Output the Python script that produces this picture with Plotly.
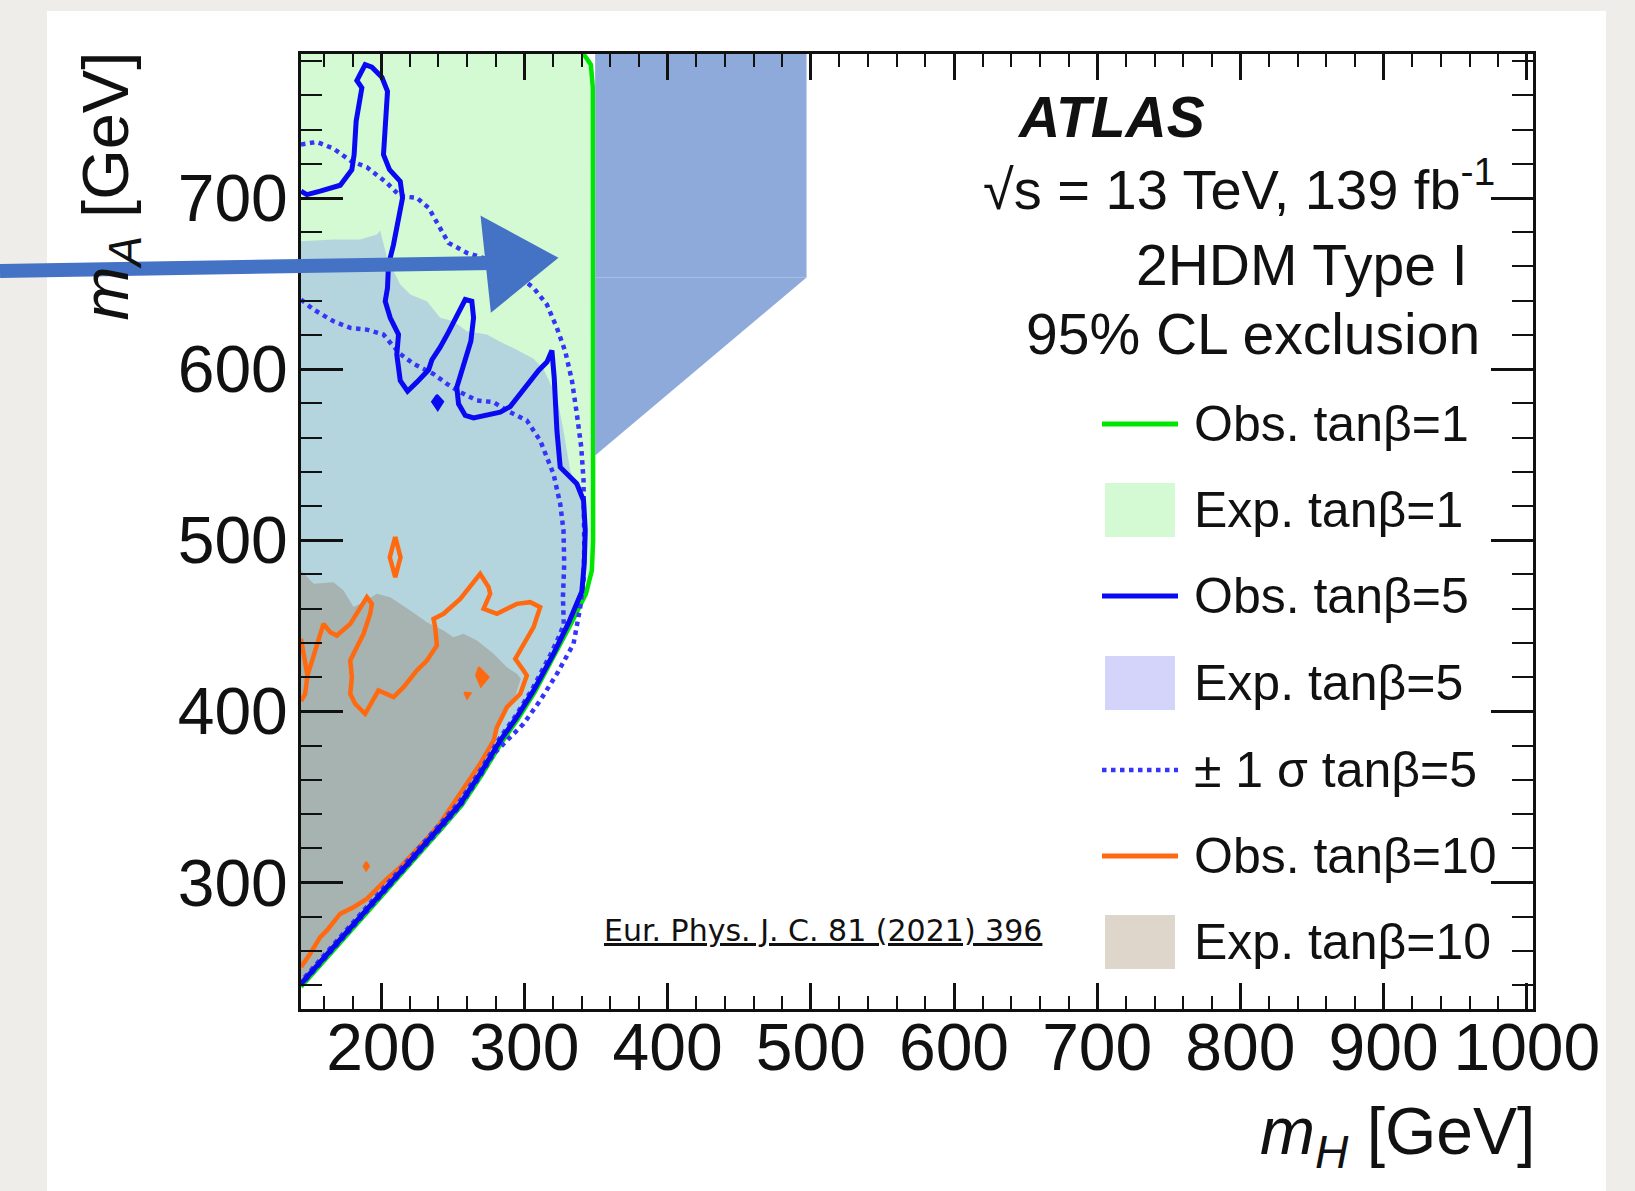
import plotly.graph_objects as go

# ---------------- data ----------------
# Expected exclusion, tan(beta)=1 (region)
exp1_mh = [144, 341.3, 346.4, 347.8, 348.0, 348.0, 347.1, 343.0, 333.2, 321.2, 307.3, 295.7,
           284.2, 270.2, 256.3, 242.3, 217.6, 192.6, 167.6, 144]
exp1_ma = [784.2, 784.2, 778.0, 764.4, 650.0, 500.0, 482.3, 468.7, 452.2, 432.8, 411.3, 395.8,
           382.0, 362.8, 345.2, 331.6, 308.2, 284.8, 261.4, 239.0]

# Observed, tan(beta)=1 (line)
obs1_mh = [341.3, 346.4, 347.8, 348.0, 348.0, 347.1, 343.0, 333.2, 321.2, 307.3, 295.7,
           284.2, 270.2, 256.3, 242.3, 217.6, 192.6, 167.6, 144]
obs1_ma = [784.2, 778.0, 764.4, 650.0, 500.0, 482.3, 468.7, 452.2, 432.8, 411.3, 395.8,
           382.0, 362.8, 345.2, 331.6, 308.2, 284.8, 261.4, 239.0]

# Expected exclusion, tan(beta)=5 (region)
exp5_mh = [144, 166.7, 185.3, 197.0, 199.3, 205.0, 210.0, 213.3, 220.3, 231.9, 241.2, 250.5,
           259.8, 273.8, 283.1, 293.0, 306.4, 313.4, 322.7, 327.3, 332.0, 339.0, 342.5, 343.0,
           341.0, 332.0, 320.3, 306.4, 294.7, 283.1, 269.1, 255.2, 241.2, 216.5, 191.4, 166.5, 144]
exp5_ma = [674.8, 675.8, 675.8, 678.7, 681.0, 662.0, 655.0, 649.4, 643.6, 639.7, 630.0, 628.0,
           622.2, 620.2, 616.0, 612.0, 606.0, 600.0, 583.6, 564.1, 540.7, 525.2, 505.7, 486.2,
           470.0, 453.1, 433.6, 412.1, 396.6, 382.9, 363.5, 345.9, 332.3, 308.9, 285.5, 262.2, 240.7]

# Observed, tan(beta)=5 (line)
obs5_mh = [144, 148.1, 157.4, 171.4, 179.5, 181.1, 182.5, 185.8, 186.5, 183.0, 188.8, 193.5,
           200.5, 204.4, 202.8, 201.6, 205.8, 213.3, 214.9, 212.1, 208.6, 205.1, 204.4, 202.8,
           206.3, 212.1, 210.9, 213.3, 218.4, 224.9, 233.1, 235.4, 241.2, 247.0, 252.8, 258.7,
           263.3, 264.5, 262.6, 259.8, 257.5, 252.8, 254.0, 258.7, 264.5, 283.1, 290.1, 301.7,
           309.9, 315.7, 319.2, 320.8, 322.7, 325.0, 336.6, 341.3, 342.5, 341.8, 340.1, 331.0,
           320.3, 306.4, 294.7, 283.1, 269.1, 255.2, 241.2, 216.5, 191.4, 166.5, 144]
obs5_ma = [704.0, 702.0, 704.0, 707.5, 716.6, 725.4, 744.9, 758.5, 764.4, 768.7, 778.0, 776.5,
           770.6, 762.4, 744.9, 725.4, 716.6, 709.8, 700.1, 686.5, 672.8, 661.1, 647.5, 639.7,
           630.0, 620.2, 608.5, 593.3, 587.1, 592.4, 599.6, 605.4, 612.8, 621.6, 631.9, 640.7,
           639.7, 630.0, 616.3, 608.5, 603.0, 589.4, 579.7, 572.9, 571.5, 574.8, 578.1, 590.4,
           599.2, 604.1, 610.9, 595.3, 564.1, 542.7, 533.0, 523.2, 505.7, 486.2, 470.0, 452.0,
           433.6, 412.1, 396.6, 382.9, 363.5, 345.9, 332.3, 308.9, 285.5, 262.2, 240.7]
# small isolated observed island, tan(beta)=5
obs5_island_mh = [238.9, 243.3, 239.5, 235.5, 238.9]
obs5_island_ma = [585.0, 581.0, 576.0, 581.0, 585.0]

# +/- 1 sigma expected, tan(beta)=5 (two dotted lines)
sig_lo_mh = [144, 152.8, 166.7, 178.4, 190.0, 201.6, 207.4, 213.3, 222.6, 236.5, 245.9, 255.2,
             266.8, 278.5, 287.8, 301.7, 311.0, 320.3, 325.0, 327.3, 327.8, 326.9, 327.5, 325.0,
             319.0, 305.5, 294.0, 282.5, 268.5, 254.5, 240.5, 216.0, 191.0, 166.0, 144]
sig_lo_ma = [640.7, 634.8, 628.0, 624.1, 623.1, 620.2, 614.4, 608.9, 603.1, 597.2, 591.4, 586.5,
             581.7, 580.7, 575.8, 570.0, 558.3, 538.8, 521.3, 505.7, 486.2, 466.7, 451.1, 445.3,
             434.5, 413.0, 397.5, 384.0, 364.5, 347.0, 333.5, 310.0, 286.5, 263.0, 242.0]
sig_hi_mh = [144, 155.1, 166.7, 178.4, 190.0, 203.9, 213.3, 224.9, 233.1, 238.9, 247.0, 259.8,
             275.0, 292.0, 306.4, 315.7, 322.7, 328.5, 333.2, 336.6, 339.7, 341.3, 341.8, 341.8,
             341.3, 339.0, 334.3, 322.7, 311.0, 299.4, 287.8, 278.5, 269.0, 255.0, 241.0, 216.5,
             191.4, 166.5, 144]
sig_hi_ma = [731.3, 732.8, 728.9, 721.9, 718.0, 708.9, 701.1, 700.1, 694.3, 685.5, 673.8, 668.0,
             664.0, 657.0, 647.5, 637.8, 624.1, 610.5, 593.3, 573.9, 554.4, 534.9, 515.4, 496.0,
             476.5, 460.9, 439.4, 421.9, 406.3, 392.7, 382.9, 375.1, 362.0, 344.5, 331.0, 308.0,
             284.5, 261.5, 240.0]

# Expected exclusion, tan(beta)=10 (region)
exp10_mh = [144, 152.8, 166.7, 173.7, 180.7, 185.3, 197.0, 206.3, 220.3, 231.9, 243.5, 250.5,
            257.5, 266.8, 278.5, 287.8, 294.7, 297.5, 294.0, 288.0, 281.0, 278.5, 269.1, 255.2,
            241.2, 216.5, 191.4, 166.5, 144]
exp10_ma = [482.3, 474.5, 475.5, 470.6, 460.9, 462.8, 468.7, 466.7, 458.9, 452.1, 447.2, 443.3,
            445.3, 441.4, 433.6, 425.8, 421.9, 419.0, 410.0, 402.0, 391.0, 383.0, 363.5, 345.9,
            332.3, 308.9, 285.5, 262.2, 240.7]

# Observed, tan(beta)=10 (lines; None separates contour pieces)
obs10_mh = [144, 148.5, 159.7, 164.4, 169.0, 178.4, 190.0, 193.5, 192.3, 187.7, 181.8, 178.4,
            179.5, 178.4, 181.8, 188.8, 198.1, 203.9, 208.6, 215.6, 224.9, 231.9, 238.9, 237.7,
            236.5, 243.5, 255.2, 269.1, 275.0, 276.1, 271.5, 280.8, 294.7, 304.1, 311.0, 306.4,
            299.4, 293.6, 299.4, 301.7, 297.1, 287.8, 280.8, 278.5, 269.1, 255.2, 241.2, 231.9,
            213.3, 204.0, 190.0, 180.7, 171.4, 162.1, 157.4, 150.4, 144,
            None, 148.5, 146.9, 144,
            None, 209.8, 213.5, 209.8, 206.0, 209.8]
obs10_ma = [442.4, 420.9, 451.1, 446.2, 444.3, 451.1, 466.7, 462.8, 457.0, 445.3, 435.5, 429.7,
            420.0, 410.2, 404.4, 398.5, 412.2, 410.2, 408.3, 414.1, 423.9, 429.7, 438.5, 449.2,
            454.0, 457.0, 465.7, 480.3, 472.6, 468.7, 459.9, 457.0, 462.8, 463.8, 460.9, 449.2,
            439.4, 430.7, 423.9, 420.9, 410.2, 402.4, 390.7, 382.9, 369.3, 351.8, 334.5, 325.5,
            308.9, 302.1, 290.4, 285.5, 281.7, 271.9, 268.0, 258.3, 250.5,
            None, 420.9, 410.2, 406.0,
            None, 502.0, 490.0, 478.4, 490.0, 502.0]
obs10_blobs_mh = [268.2, 275.0, 269.6, 266.3, 268.2, None, 258.0, 262.5, 260.0, 258.0,
                  None, 189.5, 191.5, 189.5, 187.7, 189.5]
obs10_blobs_ma = [425.8, 420.0, 414.5, 420.9, 425.8, None, 411.0, 410.5, 407.5, 411.0,
                  None, 312.0, 309.5, 307.0, 309.5, 312.0]

# Highlight overlay (added on top of the published figure)
hl_mh = [349.4, 497.0, 497.0, 349.4]
hl_ma = [784.2, 784.2, 653.6, 549.5]
hl_edge_mh = [349.4, 497.0]
hl_edge_ma = [653.6, 653.6]

# Axis ticks / labels
x_ticks = [200, 300, 400, 500, 600, 700, 800, 900, 1000]
y_ticks = [300, 400, 500, 600, 700]

legend_labels = ["Obs. tanβ=1", "Exp. tanβ=1", "Obs. tanβ=5", "Exp. tanβ=5",
                 "± 1 σ tanβ=5", "Obs. tanβ=10", "Exp. tanβ=10"]

# ---------------- styling ----------------
W, H = 1635, 1191
L, R, T, B = 301, 102, 54, 182
PW, PH = W - L - R, H - T - B
X_RANGE = [144.0, 1004.3]
Y_RANGE = [226.0, 784.2]
FONT = "Liberation Sans, Arial, Helvetica, sans-serif"

C_EXP1 = "#d4fad4"
C_EXP5_PLOT = "#b5d5de"
C_EXP5_LEG = "#d4d4fa"
C_EXP10_PLOT = "#a6b3b0"
C_EXP10_LEG = "#ded5cb"
C_GREEN = "#00e600"
C_BLUE = "#0a0af2"
C_DOT = "#3535fa"
C_ORANGE = "#ff6a10"
C_HL = "#8eaadb"
C_ARROW = "#4472c4"


def px(x):
    return (x - L) / PW


def py(y):
    return (H - B - y) / PH


fig = go.Figure()


def add(x, y, **kw):
    base = dict(mode="lines", hoverinfo="skip", showlegend=False)
    base.update(kw)
    fig.add_trace(go.Scatter(x=x, y=y, **base))


add(exp1_mh, exp1_ma, fill="toself", fillcolor=C_EXP1, line=dict(width=0))
add(exp5_mh, exp5_ma, fill="toself", fillcolor=C_EXP5_PLOT, line=dict(width=0))
add(exp10_mh, exp10_ma, fill="toself", fillcolor=C_EXP10_PLOT, line=dict(width=0))
add(obs1_mh, obs1_ma, line=dict(color=C_GREEN, width=4.5))
add(obs10_mh, obs10_ma, line=dict(color=C_ORANGE, width=4.5))
add(obs10_blobs_mh, obs10_blobs_ma, fill="toself", fillcolor=C_ORANGE,
    line=dict(color=C_ORANGE, width=2))
add(sig_lo_mh, sig_lo_ma, line=dict(color=C_DOT, width=4.5, dash="dot"))
add(sig_hi_mh, sig_hi_ma, line=dict(color=C_DOT, width=4.5, dash="dot"))
add(obs5_mh, obs5_ma, line=dict(color=C_BLUE, width=5))
add(obs5_island_mh, obs5_island_ma, fill="toself", fillcolor=C_BLUE,
    line=dict(color=C_BLUE, width=2))
add(hl_mh, hl_ma, fill="toself", fillcolor=C_HL, line=dict(width=0))
add(hl_edge_mh, hl_edge_ma, line=dict(color="#aabfe4", width=1))

shapes = []
# white panel
shapes.append(dict(type="rect", xref="paper", yref="paper", layer="below",
                   x0=px(47), x1=px(1606), y0=py(1191), y1=py(11),
                   fillcolor="white", line=dict(width=0)))
# hand drawn arrow
shapes.append(dict(type="line", xref="paper", yref="paper",
                   x0=px(0), y0=py(271), x1=px(492), y1=py(263),
                   line=dict(color=C_ARROW, width=14)))
shapes.append(dict(type="path", xref="paper", yref="paper",
                   path=f"M {px(481.7)},{py(217.3)} L {px(556.7)},{py(258)} "
                        f"L {px(491.7)},{py(310.7)} Z",
                   fillcolor=C_ARROW, line=dict(color=C_ARROW, width=2)))

# legend (drawn manually, ROOT style)
leg_rows = [424, 510, 596, 683, 770, 856, 942]
leg_kind = ["line", "box", "line", "box", "dot", "line", "box"]
leg_color = [C_GREEN, C_EXP1, C_BLUE, C_EXP5_LEG, C_DOT, C_ORANGE, C_EXP10_LEG]
annotations = []
for lab, yy, kind, col in zip(legend_labels, leg_rows, leg_kind, leg_color):
    if kind == "box":
        shapes.append(dict(type="rect", xref="paper", yref="paper",
                           x0=px(1105), x1=px(1175), y0=py(yy + 27), y1=py(yy - 27),
                           fillcolor=col, line=dict(width=0)))
    else:
        shapes.append(dict(type="line", xref="paper", yref="paper",
                           x0=px(1102), x1=px(1178), y0=py(yy), y1=py(yy),
                           line=dict(color=col, width=5 if kind == "line" else 4.5,
                                     dash="solid" if kind == "line" else "dot")))
    annotations.append(dict(xref="paper", yref="paper", x=px(1192), y=py(yy),
                            xanchor="left", yanchor="middle", showarrow=False, text=lab,
                            font=dict(family=FONT, size=50, color="#111111")))

annotations += [
    dict(xref="paper", yref="paper", x=px(1015), y=py(117), xanchor="left", yanchor="middle",
         showarrow=False, text="<b><i>ATLAS</i></b>",
         font=dict(family=FONT, size=57, color="#111111")),
    dict(xref="paper", yref="paper", x=px(1497), y=py(186), xanchor="right", yanchor="middle",
         showarrow=False, text="√s = 13 TeV, 139 fb<sup>-1</sup>",
         font=dict(family=FONT, size=56, color="#111111")),
    dict(xref="paper", yref="paper", x=px(1470), y=py(265), xanchor="right", yanchor="middle",
         showarrow=False, text="2HDM Type I",
         font=dict(family=FONT, size=57, color="#111111")),
    dict(xref="paper", yref="paper", x=px(1482), y=py(334), xanchor="right", yanchor="middle",
         showarrow=False, text="95% CL exclusion",
         font=dict(family=FONT, size=57, color="#111111")),
    dict(xref="paper", yref="paper", x=px(602), y=py(930), xanchor="left", yanchor="middle",
         showarrow=False, text="<u>Eur. Phys. J. C. 81 (2021) 396</u>",
         font=dict(family="DejaVu Sans, sans-serif", size=30, color="#111111")),
    # axis titles (ROOT style: aligned to the axis end)
    dict(xref="paper", yref="paper", x=px(1537), y=py(1136), xanchor="right", yanchor="middle",
         showarrow=False, text="<i>m</i><sub><i>H</i></sub> [GeV]",
         font=dict(family=FONT, size=66, color="#111111")),
    dict(xref="paper", yref="paper", x=px(110), y=py(50), xanchor="center", yanchor="top",
         showarrow=False, textangle=-90, text="<i>m</i><sub><i>A</i></sub> [GeV]",
         font=dict(family=FONT, size=65, color="#111111")),
]

axis_common = dict(showgrid=False, zeroline=False, showline=True, linecolor="#111111",
                   linewidth=3, mirror="allticks", ticks="inside", tickwidth=3,
                   tickcolor="#111111", tickfont=dict(family=FONT, size=66, color="#111111"))

fig.update_layout(
    width=W, height=H,
    margin=dict(l=L, r=R, t=T, b=B, pad=0),
    paper_bgcolor="#eeede9",
    plot_bgcolor="white",
    showlegend=False,
    hovermode=False,
    xaxis=dict(range=X_RANGE, tickmode="array", tickvals=x_ticks,
               ticktext=[str(v) for v in x_ticks], ticklen=26,
               minor=dict(ticks="inside", ticklen=13, tickwidth=2, dtick=20, tick0=0,
                          tickcolor="#111111", showgrid=False),
               ticklabelstandoff=-21, **axis_common),
    yaxis=dict(range=Y_RANGE, tickmode="array", tickvals=y_ticks,
               ticktext=[str(v) for v in y_ticks], ticklen=42,
               minor=dict(ticks="inside", ticklen=21, tickwidth=2, dtick=20, tick0=0,
                          tickcolor="#111111", showgrid=False),
               ticklabelstandoff=-3, **axis_common),
    shapes=shapes,
    annotations=annotations,
)

fig.write_html("out.html", config={"displayModeBar": False})
